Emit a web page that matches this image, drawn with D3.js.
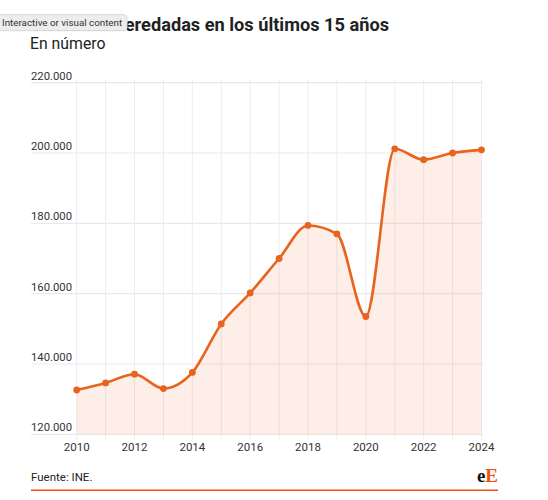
<!DOCTYPE html>
<html>
<head>
<meta charset="utf-8">
<script src="https://cdn.jsdelivr.net/npm/d3@7"></script>
<style>
  body { margin: 0; background: #fff; font-family: Roboto, "Noto Sans", sans-serif; }
  svg { display: block; }
</style>
</head>
<body>
<div id="chart"></div>
<script>
// Viviendas heredadas, 2010-2024 (INE)
const years = [2010, 2011, 2012, 2013, 2014, 2015, 2016, 2017, 2018, 2019, 2020, 2021, 2022, 2023, 2024];
const values = [132600, 134600, 137100, 133000, 137600, 151400, 160200, 170000, 179400, 177000, 153500, 201200, 198100, 200000, 200900];
const yTicks = [120000, 140000, 160000, 180000, 200000, 220000];
const xTicks = [2010, 2012, 2014, 2016, 2018, 2020, 2022, 2024];

const W = 548, H = 500;
const orange = "#E8641E";

const svg = d3.select("#chart").append("svg")
    .attr("width", W).attr("height", H);

// Title block
svg.append("text")
    .attr("x", 389).attr("y", 31)
    .attr("text-anchor", "end")
    .attr("font-size", "18.2px").attr("font-weight", "700").attr("fill", "#222")
    .text("Viviendas heredadas en los últimos 15 años");
svg.append("text")
    .attr("x", 30).attr("y", 49)
    .attr("font-size", "15.8px").attr("fill", "#222")
    .text("En número");

const x = d3.scaleLinear().domain([2010, 2024]).range([76.7, 481.5]);
const y = d3.scaleLinear().domain([120000, 220000]).range([434.3, 82.7]);

const fmt = v => d3.format(",")(v).replace(/,/g, ".");

// Horizontal grid + labels
const gy = svg.append("g");
yTicks.forEach(t => {
    gy.append("line")
        .attr("x1", 31).attr("x2", 483)
        .attr("y1", y(t)).attr("y2", y(t))
        .attr("stroke", "#e9e9e9").attr("stroke-width", 1.2);
    gy.append("text")
        .attr("x", 31).attr("y", y(t) - 3)
        .attr("font-size", "11.3px").attr("fill", "#333")
        .text(fmt(t));
});

// Vertical grid (one per year)
years.forEach(yr => {
    svg.append("line")
        .attr("x1", x(yr)).attr("x2", x(yr))
        .attr("y1", 79).attr("y2", 440)
        .attr("stroke", "#ececec").attr("stroke-width", 1);
});

const pts = years.map((yr, i) => [yr, values[i]]);

// Area
const area = d3.area()
    .x(d => x(d[0])).y0(y(120000)).y1(d => y(d[1]))
    .curve(d3.curveMonotoneX);
svg.append("path")
    .attr("d", area(pts))
    .attr("fill", orange).attr("fill-opacity", 0.1);

// Line
const line = d3.line()
    .x(d => x(d[0])).y(d => y(d[1]))
    .curve(d3.curveMonotoneX);
svg.append("path")
    .attr("d", line(pts))
    .attr("fill", "none")
    .attr("stroke", orange).attr("stroke-width", 2.6);

// Dots
svg.selectAll("circle.dot").data(pts).enter().append("circle")
    .attr("class", "dot")
    .attr("cx", d => x(d[0])).attr("cy", d => y(d[1]))
    .attr("r", 3.4).attr("fill", orange);

// X labels
xTicks.forEach(t => {
    svg.append("text")
        .attr("x", x(t)).attr("y", 450.7)
        .attr("text-anchor", "middle")
        .attr("font-size", "11.5px").attr("fill", "#333")
        .text(t);
});

// Footer
svg.append("text")
    .attr("x", 31).attr("y", 481)
    .attr("font-size", "11.5px").attr("fill", "#222")
    .text("Fuente: INE.");
svg.append("line")
    .attr("x1", 31).attr("x2", 498)
    .attr("y1", 490.3).attr("y2", 490.3)
    .attr("stroke", "#F2500F").attr("stroke-width", 1.6);
const logo = svg.append("text")
    .attr("x", 498).attr("y", 481.7)
    .attr("text-anchor", "end")
    .attr("font-family", "'Liberation Serif', 'DejaVu Serif', serif")
    .attr("font-size", "19px").attr("font-weight", "700");
logo.append("tspan").attr("fill", "#111").text("e");
logo.append("tspan").attr("fill", "#F2500F").text("E");

// Overlay tooltip visible in the reference
const tip = svg.append("g");
tip.append("rect")
    .attr("x", -2).attr("y", 14.7).attr("width", 129).attr("height", 16).attr("rx", 3)
    .attr("fill", "#ededed").attr("stroke", "#d8d8d8");
tip.append("text")
    .attr("x", 2).attr("y", 26)
    .attr("font-size", "9.8px").attr("fill", "#333")
    .text("Interactive or visual content");
</script>
</body>
</html>
